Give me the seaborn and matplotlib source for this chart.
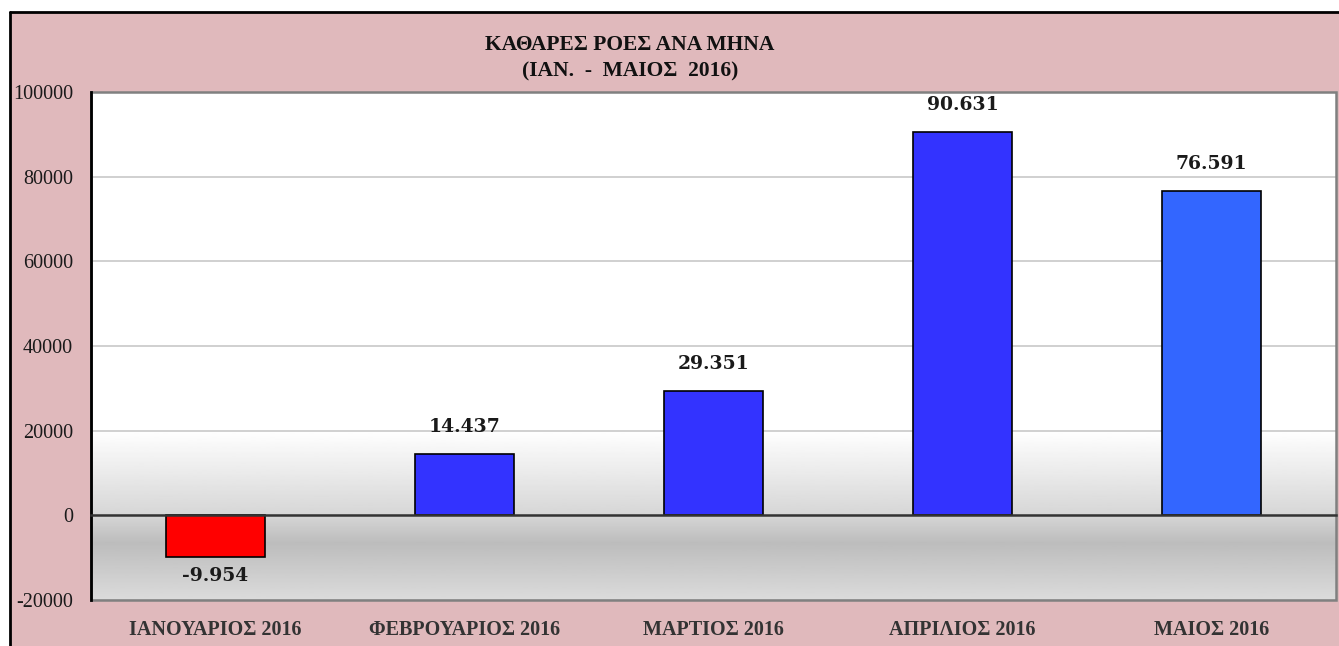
import matplotlib
matplotlib.use("Agg")
import matplotlib.pyplot as plt
from matplotlib.patches import Rectangle
from matplotlib.lines import Line2D
import matplotlib.transforms as mtransforms
import numpy as np
import pandas as pd
import seaborn as sns

# data
months = ["ΙΑΝΟΥΑΡΙΟΣ 2016", "ΦΕΒΡΟΥΑΡΙΟΣ 2016", "ΜΑΡΤΙΟΣ 2016",
          "ΑΠΡΙΛΙΟΣ 2016", "ΜΑΙΟΣ 2016"]
net_flows = [-9954, 14437, 29351, 90631, 76591]
bar_colors = ["#FF0000", "#3333FF", "#3333FF", "#3333FF", "#3366FF"]
yticks = [-20000, 0, 20000, 40000, 60000, 80000, 100000]
title_lines = ["ΚΑΘΑΡΕΣ ΡΟΕΣ ΑΝΑ ΜΗΝΑ", "(ΙΑΝ.  -  ΜΑΙΟΣ  2016)"]

df = pd.DataFrame({"month": months, "flow": net_flows})

sns.set_theme(style="white")
plt.rcParams["font.family"] = ["Liberation Serif", "DejaVu Serif"]

W, H = 1339, 646
fig = plt.figure(figsize=(W / 100, H / 100), dpi=100, facecolor="white")

# pink frame with black top/left edge
fig.add_artist(Rectangle((10 / W, 0), 1, 1 - 12 / H, transform=fig.transFigure,
                         facecolor="#E0B9BC", edgecolor="none", zorder=-10))
fig.add_artist(Line2D([10 / W, 10 / W], [0, 1 - 12 / H], transform=fig.transFigure,
                      color="black", lw=2))
fig.add_artist(Line2D([10 / W, 1], [1 - 12 / H, 1 - 12 / H], transform=fig.transFigure,
                      color="black", lw=2))

ax = fig.add_axes([91 / W, 1 - 600 / H, (1336 - 91) / W, (600 - 92) / H])
ax.set_facecolor("white")

# background gradient (white on top, grey band around zero)
gy = np.linspace(100000, -20000, 400)
gv = np.interp(-gy, [-100000, -20000, 0, 6600, 20000], [1.0, 1.0, 0.84, 0.74, 0.86])
ax.imshow(gv[:, None], extent=[-0.5, 4.5, -20000, 100000], aspect="auto",
          cmap="gray", vmin=0, vmax=1, zorder=0, interpolation="bilinear")

sns.barplot(data=df, x="month", y="flow", hue="month", palette=bar_colors,
            width=0.4, edgecolor="black", linewidth=1.2, saturation=1,
            legend=False, ax=ax, zorder=2)

ax.set_xlim(-0.5, 4.5)
ax.set_ylim(-20000, 100000)
ax.set_yticks(yticks)
ax.set_yticklabels([str(v) for v in yticks], fontsize=14.5, color="#1a1a1a")
ax.yaxis.grid(True, color="#C8C8C8", lw=1.2)
ax.set_axisbelow(True)
ax.tick_params(axis="y", length=6, width=1.5, color="black", direction="out", pad=7)

# x axis sits on zero with ticks at category boundaries
ax.spines["bottom"].set_position(("data", 0))
ax.spines["bottom"].set_color("#333333")
ax.spines["bottom"].set_linewidth(1.8)
ax.spines["bottom"].set_zorder(3)
ax.set_xticks(range(len(months)))
ax.set_xticklabels([""] * len(months))
ax.set_xticks(np.arange(0.5, 5, 1), minor=True)
ax.tick_params(axis="x", which="major", length=0)
ax.tick_params(axis="x", which="minor", length=6, width=1.5, color="black", direction="out")
ax.spines["left"].set_color("black")
ax.spines["left"].set_linewidth(2)
for s in ["top", "right"]:
    ax.spines[s].set_visible(False)
ax.add_patch(Rectangle((0, 0), 1, 1, transform=ax.transAxes, fill=False,
                       edgecolor="#808080", lw=1.8, clip_on=False, zorder=1))
ax.set_xlabel("")
ax.set_ylabel("")

# category labels below the plot
trans = mtransforms.blended_transform_factory(ax.transData, ax.transAxes)
for i, m in enumerate(months):
    ax.text(i, -0.06, m, transform=trans, ha="center", va="center",
            fontsize=14.5, fontweight="bold", color="#333333")

# value labels
for cont in ax.containers:
    for bar in cont:
        h = bar.get_height()
        if np.isnan(h):
            continue
        x = bar.get_x() + bar.get_width() / 2
        txt = f"{int(h):,}".replace(",", ".")
        if h >= 0:
            ax.annotate(txt, (x, h), xytext=(0, 13), textcoords="offset points",
                        ha="center", va="bottom", fontsize=13.5, fontweight="bold",
                        family="DejaVu Serif", color="#1a1a1a")
        else:
            ax.annotate(txt, (x, h), xytext=(0, -7), textcoords="offset points",
                        ha="center", va="top", fontsize=13.5, fontweight="bold",
                        family="DejaVu Serif", color="#1a1a1a")

fig.text(630 / W, 1 - 45 / H, title_lines[0], ha="center", va="center",
         fontsize=15.5, fontweight="bold", color="#111111")
fig.text(630 / W, 1 - 71 / H, title_lines[1], ha="center", va="center",
         fontsize=15.5, fontweight="bold", color="#111111")

fig.savefig("out.png", dpi=100, facecolor=fig.get_facecolor())
